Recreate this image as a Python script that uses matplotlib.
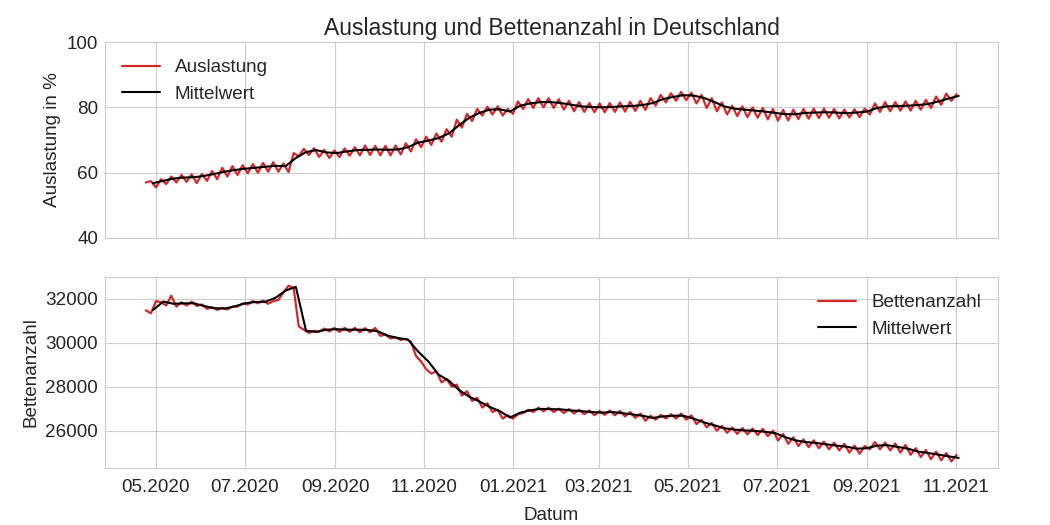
import matplotlib
matplotlib.use("Agg")
import matplotlib.pyplot as plt
import matplotlib.dates as mdates
import numpy as np
import pandas as pd

# ---------------- data ----------------
# weekly mean values (black), weeks starting 2020-04-29
mean_start = "2020-04-29"
auslastung_mittel = [
    56.8, 57.5, 58.2, 58.5, 58.6, 59.0, 59.6, 60.3, 60.8, 61.2,
    61.5, 61.8, 62.1, 62.0, 64.5, 66.3, 66.9, 66.2, 66.0, 66.5,
    66.9, 67.0, 67.1, 67.0, 67.1, 67.8, 69.2, 69.8, 70.6, 72.0,
    74.5, 76.8, 78.3, 79.3, 79.4, 78.7, 80.5, 81.2, 81.6, 81.6,
    81.3, 80.8, 80.3, 80.1, 80.0, 80.1, 80.3, 80.4, 80.7, 81.3,
    82.5, 83.2, 83.7, 83.6, 82.9, 81.7, 80.3, 79.6, 79.3, 79.0,
    78.7, 78.3, 77.9, 77.9, 78.3, 78.4, 78.5, 78.4, 78.2, 78.4,
    78.7, 79.8, 80.3, 80.4, 80.5, 80.7, 81.0, 81.8, 82.7, 83.5,
]
betten_mittel = [
    31500, 31880, 31780, 31800, 31800, 31680, 31580, 31560, 31660, 31800,
    31860, 31870, 32050, 32380, 32550, 30550, 30500, 30600, 30620, 30600,
    30600, 30590, 30530, 30330, 30220, 30150, 29600, 29150, 28550, 28280,
    27850, 27550, 27330, 27080, 26890, 26600, 26820, 26930, 26990, 26980,
    26970, 26920, 26890, 26850, 26820, 26850, 26800, 26740, 26680, 26580,
    26650, 26680, 26680, 26550, 26380, 26250, 26110, 26050, 26010, 25990,
    25950, 25890, 25700, 25560, 25480, 25440, 25380, 25320, 25270, 25180,
    25200, 25320, 25340, 25260, 25180, 25050, 24980, 24910, 24830, 24760,
]

# half-weekly raw values (red): value A at start of each week, value B 3.5 days later
raw_start = "2020-04-24"
auslastung_a = [
    57.0, 55.5, 56.5, 57.0, 57.2, 56.8, 57.5, 58.0, 58.8, 59.3,
    59.8, 60.0, 60.3, 60.3, 60.2, 65.0, 65.4, 64.8, 64.5, 64.8,
    65.2, 65.3, 65.4, 65.3, 65.3, 65.6, 66.5, 67.8, 68.5, 69.5,
    71.0, 73.8, 75.8, 77.5, 77.8, 77.5, 78.0, 79.5, 79.8, 80.0,
    79.8, 79.3, 78.8, 78.6, 78.5, 78.5, 78.6, 78.7, 78.9, 79.2,
    80.5, 81.5, 82.0, 82.2, 81.2, 79.8, 78.8, 77.8, 77.3, 77.0,
    76.8, 76.3, 75.9, 76.0, 76.4, 76.5, 76.7, 76.8, 76.6, 76.9,
    77.0, 77.8, 78.6, 78.8, 79.0, 79.0, 79.3, 79.8, 80.8, 82.0,
]
auslastung_b = [
    57.4, 58.0, 58.8, 59.3, 59.5, 59.6, 60.5, 61.5, 62.0, 62.3,
    62.6, 63.0, 63.2, 62.8, 66.0, 67.3, 67.5, 67.0, 66.8, 67.4,
    67.8, 68.3, 68.2, 68.2, 68.3, 69.0, 70.2, 71.0, 72.0, 73.3,
    76.2, 78.0, 79.5, 80.2, 80.3, 79.5, 81.8, 82.5, 82.8, 82.8,
    82.5, 82.0, 81.6, 81.3, 81.2, 81.3, 81.5, 81.7, 82.0, 82.8,
    83.8, 84.3, 84.7, 84.5, 83.8, 82.8, 81.5, 80.5, 80.3, 80.0,
    79.8, 79.5, 79.2, 79.3, 79.5, 79.6, 79.6, 79.5, 79.3, 79.4,
    79.6, 81.2, 81.6, 81.6, 81.8, 82.0, 82.3, 83.3, 84.2, 84.0,
]
betten_a = [
    31480, 31900, 31700, 31650, 31700, 31680, 31550, 31500, 31520, 31650,
    31750, 31800, 31780, 31950, 32600, 30750, 30450, 30500, 30520, 30500,
    30500, 30480, 30480, 30320, 30200, 30130, 30050, 29150, 28600, 28200,
    28000, 27600, 27350, 27050, 26850, 26550, 26550, 26800, 26850, 26880,
    26850, 26800, 26780, 26750, 26700, 26720, 26700, 26650, 26580, 26450,
    26500, 26550, 26550, 26500, 26300, 26150, 26000, 25900, 25850, 25830,
    25800, 25750, 25550, 25400, 25300, 25250, 25200, 25150, 25100, 25000,
    24950, 25150, 25150, 25100, 25000, 24900, 24800, 24700, 24650, 24600,
]
betten_b = [
    31350, 31850, 32150, 31850, 31880, 31750, 31620, 31600, 31650, 31800,
    31900, 31920, 31900, 32300, 32500, 30600, 30550, 30650, 30680, 30680,
    30680, 30670, 30680, 30380, 30250, 30180, 29400, 28800, 28700, 28350,
    28100, 27800, 27500, 27250, 26950, 26700, 26750, 26950, 27050, 27050,
    27000, 26980, 26950, 26920, 26900, 26920, 26900, 26850, 26780, 26680,
    26720, 26750, 26780, 26700, 26500, 26350, 26220, 26150, 26120, 26100,
    26080, 26000, 25850, 25700, 25600, 25560, 25500, 25450, 25400, 25320,
    25300, 25480, 25460, 25420, 25350, 25200, 25120, 25050, 24980, 24900,
]

title = "Auslastung und Bettenanzahl in Deutschland"

# ---------------- build series ----------------
mean_dates = pd.date_range(mean_start, periods=len(auslastung_mittel), freq="7D")
week_a = pd.date_range(raw_start, periods=len(auslastung_a), freq="7D")
week_b = week_a + pd.Timedelta(hours=84)
raw_dates = np.empty(2 * len(week_a), dtype="datetime64[ns]")
raw_dates[0::2] = week_a.values
raw_dates[1::2] = week_b.values

def interleave(a, b):
    out = np.empty(len(a) + len(b))
    out[0::2] = a
    out[1::2] = b
    return out

ausl_raw = interleave(auslastung_a, auslastung_b)
bett_raw = interleave(betten_a, betten_b)

# ---------------- plot ----------------
plt.style.use("seaborn-v0_8-whitegrid")
plt.rcParams["font.family"] = ["Liberation Sans", "DejaVu Sans"]
red = "#d62728"
fs = 13.6

fig = plt.figure(figsize=(10.5, 5.25), dpi=100)
ax1 = fig.add_axes([0.1, 0.5467, 0.8505, 0.3733])
ax2 = fig.add_axes([0.1, 0.1086, 0.8505, 0.3638], sharex=ax1)

ax1.plot(raw_dates, ausl_raw, color=red, lw=1.6, label="Auslastung")
ax1.plot(mean_dates, auslastung_mittel, color="black", lw=1.5, label="Mittelwert")
ax1.set_ylim(40, 100)
ax1.set_yticks([40, 60, 80, 100])
ax1.set_ylabel("Auslastung in %", fontsize=fs, labelpad=4)
ax1.set_title(title, fontsize=16.5, pad=5)
ax1.legend(loc="upper left", fontsize=fs, frameon=False)
ax1.tick_params(labelbottom=False, labelsize=fs, pad=5)

ax2.plot(raw_dates, bett_raw, color=red, lw=1.6, label="Bettenanzahl")
ax2.plot(mean_dates, betten_mittel, color="black", lw=1.5, label="Mittelwert")
ax2.set_ylim(24300, 33000)
ax2.set_yticks([26000, 28000, 30000, 32000])
ax2.set_ylabel("Bettenanzahl", fontsize=fs, labelpad=4)
ax2.set_xlabel("Datum", fontsize=fs, labelpad=8)
ax2.legend(loc="upper right", fontsize=fs, frameon=False)
ax2.tick_params(axis="y", labelsize=fs, pad=5)
ax2.tick_params(axis="x", labelsize=fs, pad=8)

ax2.xaxis.set_major_locator(mdates.MonthLocator(bymonth=[1, 3, 5, 7, 9, 11]))
ax2.xaxis.set_major_formatter(mdates.DateFormatter("%m.%Y"))
ax2.set_xlim(pd.Timestamp("2020-03-27"), pd.Timestamp("2021-11-30"))

for ax in (ax1, ax2):
    for s in ax.spines.values():
        s.set_visible(True)
        s.set_color("#cccccc")
        s.set_linewidth(0.8)

fig.savefig("out.png", dpi=100)
